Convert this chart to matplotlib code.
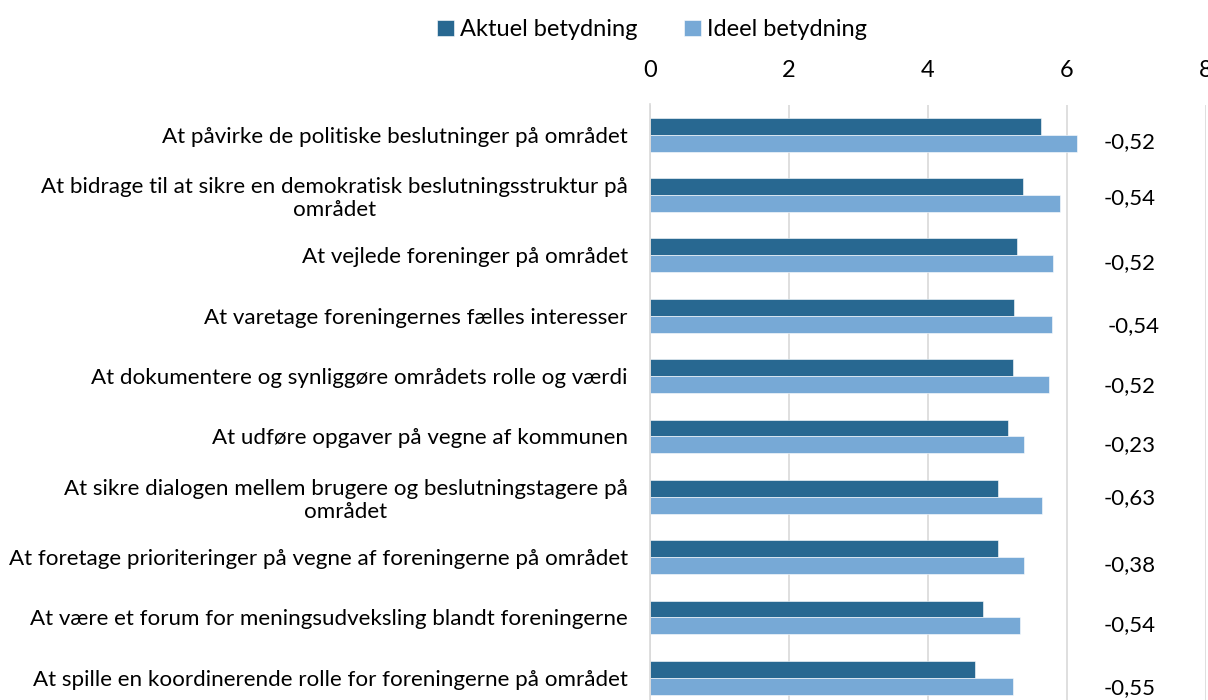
import numpy as np
from matplotlib import pyplot as plt
import matplotlib

plt.rcParams['font.family'] = ['Lato', 'DejaVu Sans']

categories = [
    "At påvirke de politiske beslutninger på området",
    "At bidrage til at sikre en demokratisk beslutningsstruktur på\nområdet",
    "At vejlede foreninger på området",
    "At varetage foreningernes fælles interesser",
    "At dokumentere og synliggøre områdets rolle og værdi",
    "At udføre opgaver på vegne af kommunen",
    "At sikre dialogen mellem brugere og beslutningstagere på\nområdet",
    "At foretage prioriteringer på vegne af foreningerne på området",
    "At være et forum for meningsudveksling blandt foreningerne",
    "At spille en koordinerende rolle for foreningerne på området",
]
aktuel = [5.62, 5.36, 5.28, 5.24, 5.22, 5.15, 5.01, 5.00, 4.79, 4.68]
ideel = [6.14, 5.90, 5.80, 5.78, 5.74, 5.38, 5.64, 5.38, 5.33, 5.23]
diff_labels = ["-0,52", "-0,54", "-0,52", "-0,54", "-0,52",
               "-0,23", "-0,63", "-0,38", "-0,54", "-0,55"]
# manual nudges of the difference text boxes (in row units)
diff_dy = [0.13, 0.05, 0.12, 0.18, 0.17, 0.15, 0.03, 0.13, 0.12, 0.17]
diff_dx = [6.53, 6.53, 6.53, 6.58, 6.53, 6.53, 6.53, 6.53, 6.53, 6.53]

dark = "#286891"
light = "#77A9D6"

figure = plt.figure(figsize=(12.08, 7.0), dpi=100)
ax = figure.add_axes([650 / 1208, -8 / 700, 556 / 1208, 603.5 / 700])

y = np.arange(len(categories))
h = 0.28
ax.barh(y - h / 2, aktuel, height=h, color=dark, label="Aktuel betydning",
        edgecolor="white", linewidth=0.4)
ax.barh(y + h / 2, ideel, height=h, color=light, label="Ideel betydning",
        edgecolor="white", linewidth=0.4)

for i, lab in enumerate(diff_labels):
    ax.text(diff_dx[i], y[i] + diff_dy[i], lab, ha="left", va="center",
            fontsize=16, color="black")

ax.set_xlim(0, 8)
ax.set_ylim(len(categories) - 0.5, -0.5)
ax.set_xticks([0, 2, 4, 6, 8])
ax.xaxis.tick_top()
ax.tick_params(axis="x", length=0, labelsize=17, pad=17)
ax.set_yticks(y)
ax.set_yticklabels(categories, fontsize=16.1, multialignment="center")
ax.tick_params(axis="y", length=0, pad=16)
ax.grid(axis="x", color="#d9d9d9", linewidth=1.2)
ax.set_axisbelow(True)
for s in ["top", "right", "bottom"]:
    ax.spines[s].set_visible(False)
ax.spines["left"].set_color("#d9d9d9")
ax.spines["left"].set_linewidth(1.2)

figure.legend(loc="upper center", bbox_to_anchor=(652 / 1208, 1.003), ncol=2,
              frameon=False, fontsize=17, handlelength=0.7, handleheight=0.7,
              handletextpad=0.25, columnspacing=2.0)

figure.savefig("out.png")
